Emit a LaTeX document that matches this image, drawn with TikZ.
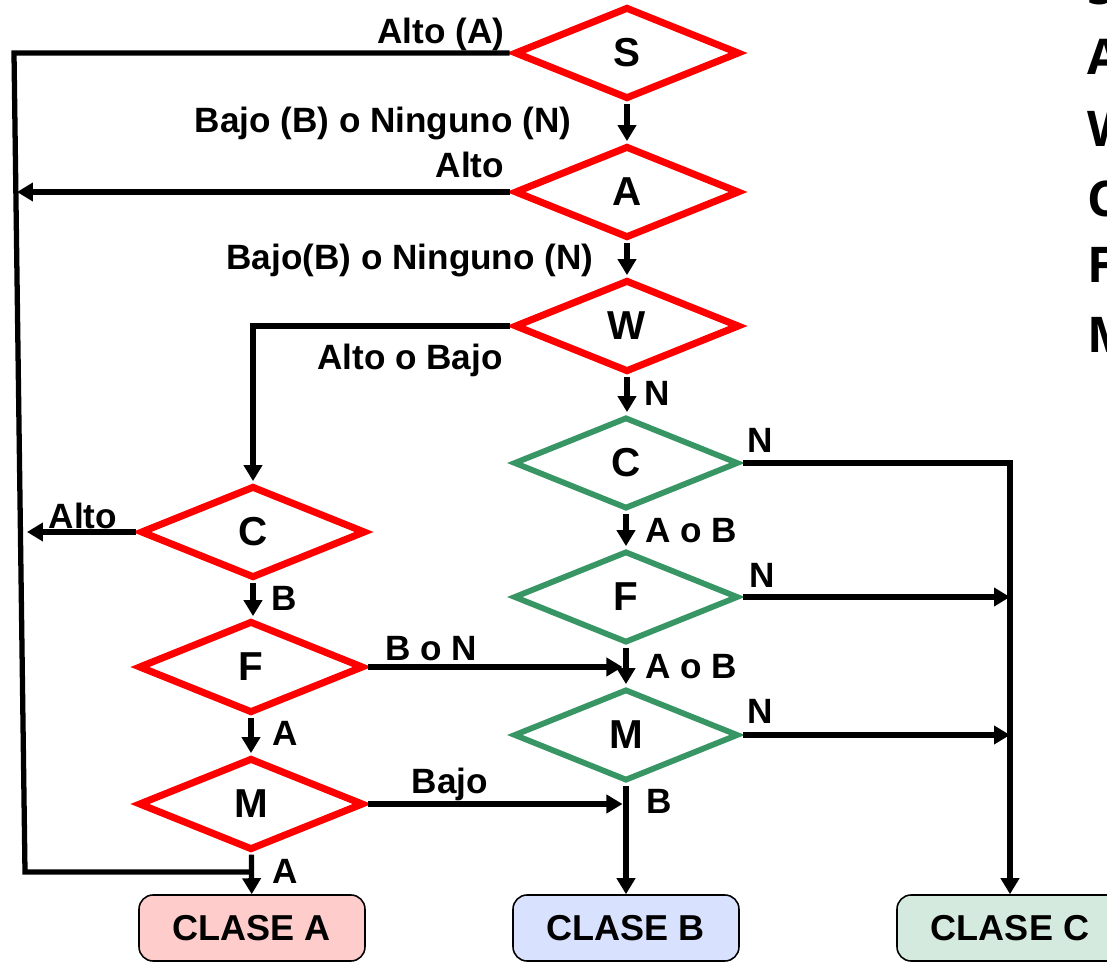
\documentclass[tikz,border=0pt]{standalone}
\usepackage{fontspec}
\setmainfont{Liberation Sans}
\newfontfamily\keyfont{Open Sans}
\usepackage{tikz}
\usetikzlibrary{shapes.geometric, arrows.meta, positioning, calc}
\definecolor{decred}{RGB}{255,0,0}
\definecolor{decgreen}{RGB}{55,150,100}
\definecolor{clsred}{RGB}{255,204,204}
\definecolor{clsblue}{RGB}{216,226,255}
\definecolor{clsgreen}{RGB}{213,234,222}
\tikzset{
  reddec/.style={diamond, draw=decred, line width=4pt,
    minimum width=4.52cm, minimum height=1.86cm, inner sep=0pt,
    outer sep=2.5pt, font=\fontsize{23}{27}\selectfont\bfseries},
  greendec/.style={reddec, draw=decgreen, line width=3.3pt},
  classbox/.style={rectangle, draw=black, line width=0.9pt,
    rounded corners=8pt, minimum width=4.52cm, minimum height=1.32cm,
    font=\fontsize{20.5}{24}\selectfont\bfseries},
  arrow/.style={-{Triangle[length=0.32cm, width=0.36cm]}, line width=3pt},
  line/.style={line width=3pt},
  lbl/.style={font=\fontsize{20}{24}\selectfont\bfseries, inner sep=0pt, anchor=base},
  keyletter/.style={font=\keyfont\fontsize{28}{32}\selectfont\bfseries,
    inner sep=0pt, anchor=base west}
}

\begin{document}
\begin{tikzpicture}[x=0.02cm, y=-0.02cm]
  \useasboundingbox (0,0) rectangle (1107,963);

  % main column
  \node[reddec] (S) at (627,53) {S};
  \node[reddec] (A) at (627,192) {A};
  \node[reddec] (W) at (627,326) {W};
  \node[greendec] (C2) at (626,463) {C};
  \node[greendec] (F2) at (626,597) {F};
  \node[greendec] (M2) at (626,735) {M};

  % left column
  \node[reddec] (C1) at (253,532) {C};
  \node[reddec] (F1) at (251,667) {F};
  \node[reddec] (M1) at (251,804) {M};

  % classes
  \node[classbox, fill=clsred] (clsA) at (252,928) {CLASE A};
  \node[classbox, fill=clsblue] (clsB) at (626,928) {CLASE B};
  \node[classbox, fill=clsgreen] (clsC) at (1010,928) {CLASE C};

  % loop on the far left
  \coordinate (loopTop) at (14,53);
  \coordinate (loopBot) at (25,872);
  \coordinate (hitA) at (17,192);
  \coordinate (hitC) at (27,532);
  \draw[line] (S.west) -- (loopTop) -- (loopBot) -- (loopBot -| M1);
  \draw[arrow] (A.west) -- (hitA);
  \draw[arrow] (C1.west) -- (hitC);

  % main column connectors
  \draw[arrow] (S) -- (A);
  \draw[arrow] (A) -- (W);
  \draw[arrow] (W.south) -- (W.south |- C2.north);
  \draw[arrow] (W.west) -| (C1.north);
  \draw[arrow] (C2) -- (F2);
  \draw[arrow] (F2) -- (M2);
  \draw[arrow] (M2) -- (clsB);
  \draw[arrow] (C2.east) -| (clsC.north);
  \draw[arrow] (F2.east) -- (F2.east -| clsC);
  \draw[arrow] (M2.east) -- (M2.east -| clsC);

  % left column connectors
  \draw[arrow] (C1.south) -- (C1.south |- F1.north);
  \draw[arrow] (F1) -- (M1);
  \draw[arrow] (M1) -- (clsA);
  \draw[arrow] (F1.east) -- ([xshift=-2pt]F1.east -| M2.north);
  \draw[arrow] (M1.east) -- ([xshift=-2pt]M1.east -| M2.south);

  % branch labels
  \node[lbl] (lS1) at (441,44) {Alto (A)};
  \node[lbl] (lS2) at (383,133) {Bajo (B) o Ninguno (N)};
  \node[lbl] (lA1) at (470,178) {Alto};
  \node[lbl] (lA2) at (410,270) {Bajo(B) o Ninguno (N)};
  \node[lbl] (lW1) at (410,370) {Alto o Bajo};
  \node[lbl] (lW2) at (657,405) {N};
  \node[lbl] (lC2a) at (760,452) {N};
  \node[lbl] (lC2b) at (691,542) {A o B};
  \node[lbl] (lF2a) at (762,587) {N};
  \node[lbl] (lF2b) at (691,678) {A o B};
  \node[lbl] (lM2a) at (760,723) {N};
  \node[lbl] (lM2b) at (659,813) {B};
  \node[lbl] (lC1a) at (83,528) {Alto};
  \node[lbl] (lC1b) at (284,610) {B};
  \node[lbl] (lF1a) at (285,745) {A};
  \node[lbl] (lF1b) at (431,660) {B o N};
  \node[lbl] (lM1a) at (285,883) {A};
  \node[lbl] (lM1b) at (450,793) {Bajo};

  % key letters at the right edge
  \foreach \k/\y in {S/5, A/75, W/147, C/216, F/283, M/353}
    \node[keyletter] (key\k) at (1087,\y) {\k};
\end{tikzpicture}
\end{document}
